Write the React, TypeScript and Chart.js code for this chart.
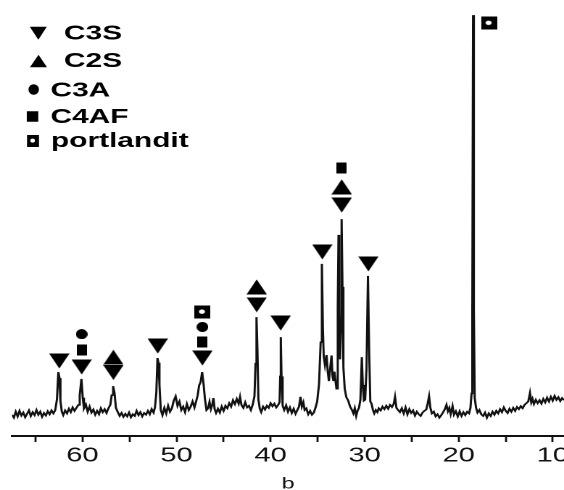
import React, { useEffect, useRef } from 'react';
import { Chart, registerables } from 'chart.js';

Chart.register(...registerables);

// The original picture is stretched horizontally; the canvas is drawn narrower and widened by CSS.
const SX = 1.45;
const W = 564;
const H = 490;
const LW = Math.round(W / SX);

const X_MIN = 8.8;
const X_MAX = 67.5;
const TICK_VALUES = [65, 60, 55, 50, 45, 40, 35, 30, 25, 20, 15, 10];
const AXIS_LABEL = 'b';

// 2-theta (deg), intensity (a.u.)
const SPECTRUM: [number, number][] = [
  [67.5,5.0],[67.3,4.3],[67.1,5.7],[66.9,4.6],[66.7,5.9],[66.5,4.8],[66.3,5.5],[66.1,4.4],[65.9,5.2],[65.7,6.0],
  [65.5,4.7],[65.3,5.6],[65.1,4.9],[64.9,6.1],[64.7,5.0],[64.5,5.7],[64.3,4.5],[64.1,5.4],[63.9,4.8],[63.7,5.8],
  [63.5,5.1],[63.3,6.0],[63.1,5.3],[62.9,6.1],[62.72,8.6],[62.57,15.0],[62.45,13.6],[62.35,8.2],[62.2,5.7],[62.05,4.9],
  [61.85,6.0],[61.65,5.3],[61.45,6.4],[61.25,5.6],[61.05,6.7],[60.85,5.9],[60.65,6.6],[60.45,7.3],[60.3,9.6],[60.12,13.4],
  [59.98,9.0],[59.85,6.5],[59.65,7.4],[59.45,5.7],[59.25,6.9],[59.05,5.5],[58.85,6.2],[58.65,5.0],[58.45,5.9],[58.25,5.1],
  [58.05,6.5],[57.85,5.6],[57.65,6.3],[57.45,5.4],[57.25,6.5],[57.05,7.3],[56.9,9.6],[56.75,11.7],[56.6,10.1],[56.45,6.6],
  [56.25,5.6],[56.05,4.7],[55.85,5.4],[55.65,4.5],[55.45,5.2],[55.25,4.6],[55.05,5.5],[54.85,4.4],[54.65,5.1],[54.45,4.7],
  [54.25,5.9],[54.05,4.9],[53.85,5.6],[53.65,4.6],[53.45,5.4],[53.25,5.0],[53.05,5.9],[52.85,5.1],[52.65,6.3],[52.45,5.5],
  [52.3,6.7],[52.15,10.2],[52.03,18.3],[51.93,17.2],[51.82,12.0],[51.68,6.1],[51.5,4.9],[51.3,6.6],[51.1,5.3],[50.9,7.1],
  [50.7,5.7],[50.5,6.5],[50.3,8.3],[50.1,9.3],[49.9,7.1],[49.7,8.1],[49.5,6.1],[49.3,6.9],[49.1,5.6],[48.9,7.5],
  [48.7,6.1],[48.5,6.9],[48.3,8.1],[48.1,6.7],[47.9,8.3],[47.75,9.6],[47.6,11.9],[47.45,12.6],[47.28,15.0],[47.12,12.0],
  [46.98,8.6],[46.82,6.1],[46.65,6.5],[46.5,8.0],[46.35,6.3],[46.2,7.4],[46.08,8.9],[45.95,6.3],[45.8,5.4],[45.6,6.4],
  [45.4,5.5],[45.2,6.9],[45.0,5.9],[44.8,7.1],[44.6,6.5],[44.4,7.7],[44.2,6.9],[44.0,8.4],[43.8,7.5],[43.6,8.7],
  [43.4,7.6],[43.25,9.2],[43.1,7.3],[42.9,6.6],[42.7,7.9],[42.5,6.7],[42.3,7.1],[42.1,6.1],[41.9,7.4],[41.72,9.3],
  [41.6,17.0],[41.5,27.9],[41.4,20.0],[41.3,8.6],[41.15,6.4],[41.0,5.6],[40.8,6.9],[40.6,6.2],[40.4,7.1],[40.2,6.6],
  [40.0,7.7],[39.8,7.0],[39.6,7.6],[39.4,6.7],[39.2,7.3],[39.05,7.9],[38.98,14.0],[38.92,23.2],[38.84,14.0],[38.72,7.1],
  [38.55,6.1],[38.35,7.2],[38.15,5.7],[37.95,6.7],[37.75,5.4],[37.55,6.4],[37.35,5.2],[37.15,6.1],[36.98,6.9],[36.82,9.2],
  [36.68,6.9],[36.52,7.9],[36.38,6.1],[36.2,6.5],[36.0,5.1],[35.8,5.9],[35.6,5.0],[35.4,5.5],[35.22,6.7],[35.05,8.1],
  [34.85,12.2],[34.68,22.0],[34.55,40.4],[34.44,25.0],[34.35,18.6],[34.22,16.6],[34.05,19.0],[33.92,15.0],[33.8,12.9],[33.68,15.6],
  [33.52,18.9],[33.42,14.1],[33.32,12.9],[33.22,15.1],[33.12,13.3],[33.0,11.1],[32.86,30.0],[32.78,47.2],[32.7,30.0],[32.62,18.0],
  [32.53,25.0],[32.45,50.9],[32.36,35.0],[32.26,16.1],[32.12,11.1],[31.95,9.1],[31.75,8.3],[31.55,6.9],[31.35,6.1],[31.2,5.3],
  [31.05,6.5],[30.9,4.7],[30.75,6.0],[30.6,6.6],[30.45,8.6],[30.3,18.5],[30.2,12.0],[30.08,8.3],[29.95,8.5],[29.8,16.0],
  [29.65,37.6],[29.52,20.0],[29.4,8.1],[29.27,7.6],[29.12,6.1],[28.98,5.3],[28.82,6.1],[28.65,5.6],[28.5,6.5],[28.3,6.0],
  [28.1,6.9],[27.9,6.3],[27.7,7.1],[27.5,6.4],[27.3,7.3],[27.1,6.8],[26.9,7.6],[26.77,9.2],[26.62,6.6],[26.45,6.1],
  [26.25,5.6],[26.05,6.5],[25.85,5.3],[25.65,6.7],[25.45,5.1],[25.25,6.3],[25.05,5.4],[24.85,6.0],[24.65,4.8],[24.45,5.7],
  [24.25,5.1],[24.05,4.7],[23.85,5.5],[23.65,5.9],[23.45,6.2],[23.3,7.6],[23.15,9.3],[23.02,6.7],[22.85,5.3],[22.65,5.7],
  [22.45,4.6],[22.25,5.1],[22.05,4.3],[21.85,4.9],[21.65,5.6],[21.45,6.4],[21.3,7.3],[21.15,5.8],[21.0,6.6],[20.85,5.1],
  [20.65,7.0],[20.5,5.0],[20.3,5.8],[20.1,4.6],[19.9,5.8],[19.7,4.7],[19.5,5.6],[19.3,4.9],[19.1,5.7],[18.9,5.3],
  [18.75,6.6],[18.63,10.0],[18.55,30.0],[18.47,98.8],[18.39,30.0],[18.3,9.0],[18.15,6.6],[18.0,5.5],[17.8,6.1],[17.6,5.1],
  [17.4,4.7],[17.2,5.5],[17.0,4.3],[16.8,5.3],[16.6,4.7],[16.4,5.7],[16.2,5.0],[16.0,5.9],[15.8,5.3],[15.6,6.3],
  [15.4,5.6],[15.2,6.7],[15.0,5.9],[14.8,5.4],[14.6,6.4],[14.4,5.7],[14.2,6.6],[14.0,5.9],[13.8,6.8],[13.6,6.3],
  [13.4,7.0],[13.2,6.5],[13.0,7.3],[12.8,7.7],[12.6,8.1],[12.42,10.1],[12.28,7.9],[12.15,8.7],[12.0,7.5],[11.8,8.5],
  [11.6,7.7],[11.4,8.4],[11.2,7.6],[11.0,8.7],[10.8,7.9],[10.6,9.0],[10.4,8.1],[10.2,9.2],[10.0,8.3],[9.8,9.4],
  [9.6,8.5],[9.4,9.1],[9.2,8.2],[9.0,8.9],[8.8,8.4],
];

// Phase markers: [2-theta, marker height]
const C3S_MARKS: [number, number][] = [
  [62.47,17.6],[60.09,16.2],[56.72,14.9],[52.0,21.1],[47.25,18.3],[41.48,30.8],[38.93,26.5],[34.5,43.2],[32.44,54.2],[29.6,40.4],
];
const C2S_MARKS: [number, number][] = [[56.72,18.5],[41.48,35.0],[32.44,58.5]];
const C3A_MARKS: [number, number][] = [[60.09,23.9],[47.25,25.6]];
const C4AF_MARKS: [number, number][] = [[60.09,20.2],[47.25,22.1],[32.44,62.9]];
const PORTLANDIT_MARKS: [number, number][] = [[47.25,29.1],[16.77,96.9]];

const PHASE_NAMES = ['C3S', 'C2S', 'C3A', 'C4AF', 'portlandit'];
const PHASE_KINDS = ['down', 'up', 'circle', 'square', 'portlandit'];

const FONT = '"Liberation Sans", Arial, Helvetica, sans-serif';

// shapes drawn in "screen" units
function drawShape(ctx: CanvasRenderingContext2D, kind: string, cx: number, cy: number, w: number, h: number) {
  ctx.fillStyle = '#000';
  ctx.beginPath();
  if (kind === 'down') {
    ctx.moveTo(cx - w / 2, cy - h / 2);
    ctx.lineTo(cx + w / 2, cy - h / 2);
    ctx.lineTo(cx, cy + h / 2);
    ctx.closePath();
    ctx.fill();
  } else if (kind === 'up') {
    ctx.moveTo(cx - w / 2, cy + h / 2);
    ctx.lineTo(cx + w / 2, cy + h / 2);
    ctx.lineTo(cx, cy - h / 2);
    ctx.closePath();
    ctx.fill();
  } else if (kind === 'circle') {
    ctx.ellipse(cx, cy, w / 2, h / 2, 0, 0, Math.PI * 2);
    ctx.fill();
  } else if (kind === 'square') {
    ctx.rect(cx - w / 2, cy - h / 2, w, h);
    ctx.fill();
  } else if (kind === 'portlandit') {
    ctx.rect(cx - w / 2, cy - h / 2, w, h);
    ctx.fill();
    ctx.fillStyle = '#fff';
    ctx.beginPath();
    ctx.ellipse(cx - w * 0.03, cy - h * 0.03, w * 0.19, h * 0.17, 0, 0, Math.PI * 2);
    ctx.fill();
  }
}

// marker image: logical size lw x lh (screen width = lw * SX)
function makeMarker(kind: string, lw: number, lh: number): Promise<HTMLImageElement> {
  const R = 4;
  const c = document.createElement('canvas');
  c.width = lw * R;
  c.height = lh * R;
  const ctx = c.getContext('2d') as CanvasRenderingContext2D;
  const sw = lw * SX;
  ctx.scale(c.width / sw, c.height / lh);
  drawShape(ctx, kind, sw / 2, lh / 2, sw, lh);
  return new Promise((resolve) => {
    const img = new Image(lw, lh);
    img.onload = () => resolve(img);
    img.onerror = () => resolve(img);
    img.src = c.toDataURL();
  });
}

const legendPlugin = {
  id: 'xrdLegend',
  afterDraw(chart: any) {
    const ctx: CanvasRenderingContext2D = chart.ctx;
    const items = [
      { cx: 38.3, cy: 33.3, w: 17, h: 13, tx: 64, ty: 39.5 },
      { cx: 38.5, cy: 61, w: 17, h: 12.5, tx: 64, ty: 67 },
      { cx: 33.7, cy: 89.5, w: 10.5, h: 10.5, tx: 50.5, ty: 96.5 },
      { cx: 32.5, cy: 116.5, w: 11.5, h: 10.5, tx: 50.5, ty: 123 },
      { cx: 33, cy: 141, w: 12, h: 12, tx: 51, ty: 147 },
    ];
    PHASE_NAMES.forEach((name, i) => {
      const it = items[i];
      ctx.save();
      ctx.scale(1 / SX, 1);
      drawShape(ctx, PHASE_KINDS[i], it.cx, it.cy, it.w, it.h);
      ctx.restore();
      ctx.save();
      ctx.font = `bold 20.6px ${FONT}`;
      ctx.fillStyle = '#000';
      ctx.textBaseline = 'alphabetic';
      ctx.textAlign = 'left';
      ctx.fillText(name, it.tx / SX, it.ty);
      ctx.restore();
    });
  },
};

const toXY = (arr: [number, number][]) => arr.map(([x, y]) => ({ x, y }));

export default function App() {
  const ref = useRef<HTMLCanvasElement | null>(null);

  useEffect(() => {
    let chart: any = null;
    let cancelled = false;
    Promise.all([
      makeMarker('down', 14, 15),
      makeMarker('up', 14, 15),
      makeMarker('circle', 8, 10),
      makeMarker('square', 7, 11),
      makeMarker('portlandit', 11, 13),
    ]).then(([down, up, circle, square, port]) => {
      if (cancelled || !ref.current) return;
      const markerDs = (label: string, arr: [number, number][], img: HTMLImageElement) => ({
        label,
        data: toXY(arr),
        pointStyle: img,
        pointRadius: 8,
        showLine: false,
        borderColor: '#000',
        backgroundColor: '#000',
      });
      chart = new Chart(ref.current, {
        type: 'scatter',
        data: {
          datasets: [
            markerDs('C3S', C3S_MARKS, down),
            markerDs('C2S', C2S_MARKS, up),
            markerDs('C3A', C3A_MARKS, circle),
            markerDs('C4AF', C4AF_MARKS, square),
            markerDs('portlandit', PORTLANDIT_MARKS, port),
            {
              label: 'XRD',
              data: toXY(SPECTRUM),
              showLine: true,
              borderColor: '#111',
              borderWidth: 1.5,
              pointRadius: 0,
              pointHoverRadius: 0,
              tension: 0,
              fill: false,
            } as any,
          ],
        },
        options: {
          responsive: false,
          animation: false,
          devicePixelRatio: 2,
          events: [],
          layout: { autoPadding: false, padding: { left: 12 / SX, right: 0, top: 10, bottom: 0 } },
          plugins: { legend: { display: false }, tooltip: { enabled: false } },
          scales: {
            x: {
              type: 'linear',
              reverse: true,
              min: X_MIN,
              max: X_MAX,
              position: 'bottom',
              afterBuildTicks: (s: any) => {
                s.ticks = TICK_VALUES.map((v) => ({ value: v }));
              },
              afterFit: (s: any) => {
                s.height = 54;
                s.paddingLeft = 0;
                s.paddingRight = 0;
              },
              grid: {
                display: true,
                drawOnChartArea: false,
                drawTicks: true,
                tickLength: 6,
                tickWidth: 1.4,
                tickColor: '#111',
              },
              border: { display: true, color: '#111', width: 2 },
              ticks: {
                color: '#111',
                font: { family: FONT, size: 20, lineHeight: 1.2 },
                padding: 2,
                maxRotation: 0,
                minRotation: 0,
                autoSkip: false,
                callback: (v: any) => (Number(v) % 10 === 0 ? String(v) : ''),
              },
              title: {
                display: true,
                text: AXIS_LABEL,
                color: '#111',
                font: { family: FONT, size: 16, lineHeight: 0.75 },
                padding: 0,
              },
            },
            y: { display: false, min: 0, max: 100 },
          },
        } as any,
        plugins: [legendPlugin],
      });
    });
    return () => {
      cancelled = true;
      if (chart) chart.destroy();
    };
  }, []);

  return (
    <div style={{ position: 'fixed', left: 0, top: 0, width: W, height: H, background: '#fff' }}>
      <canvas ref={ref} width={LW} height={H} style={{ width: `${W}px`, height: `${H}px`, display: 'block' }} />
    </div>
  );
}
